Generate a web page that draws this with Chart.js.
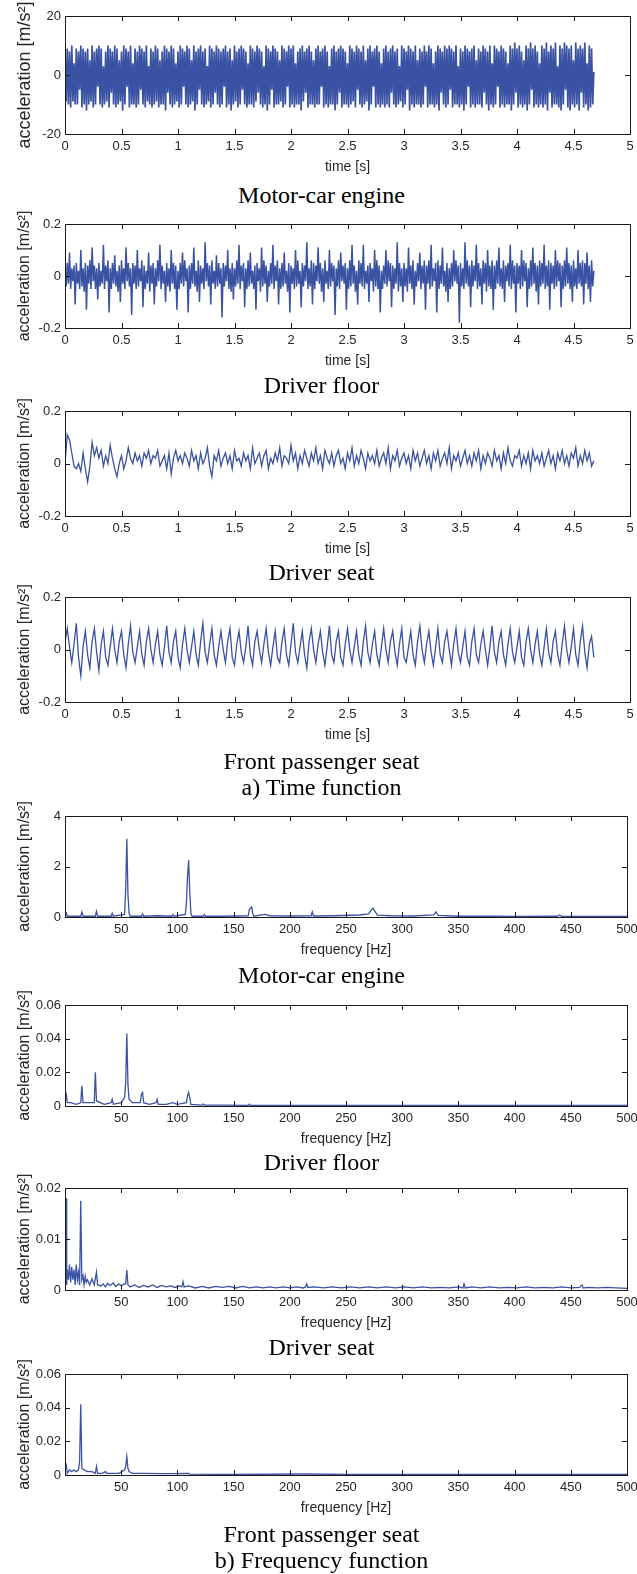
<!DOCTYPE html>
<html>
<head>
<meta charset="utf-8">
<script src="https://cdn.jsdelivr.net/npm/chart.js@4/dist/chart.umd.min.js"></script>
<style>
  body { margin: 0; background: #fff; }
  #page { position: relative; width: 637px; height: 1574px; overflow: hidden; }
  canvas { position: absolute; left: 0; }
  .cap { position: absolute; left: 3px; width: 637px; text-align: center; font-family: "Liberation Serif", "Times New Roman", serif; font-size: 24px; line-height: 26px; color: #000; }
</style>
</head>
<body>
<div id="page">
  <canvas id="c1" width="637" height="180" style="top:0px"></canvas>
  <div class="cap" style="top:182px">Motor-car engine</div>
  <canvas id="c2" width="637" height="166" style="top:208px"></canvas>
  <div class="cap" style="top:372px">Driver floor</div>
  <canvas id="c3" width="637" height="167" style="top:395px"></canvas>
  <div class="cap" style="top:559px">Driver seat</div>
  <canvas id="c4" width="637" height="167" style="top:581px"></canvas>
  <div class="cap" style="top:748px">Front passenger seat</div>
  <div class="cap" style="top:774px">a) Time function</div>
  <canvas id="c5" width="637" height="163" style="top:800px"></canvas>
  <div class="cap" style="top:962px">Motor-car engine</div>
  <canvas id="c6" width="637" height="163" style="top:989px"></canvas>
  <div class="cap" style="top:1149px">Driver floor</div>
  <canvas id="c7" width="637" height="164" style="top:1172px"></canvas>
  <div class="cap" style="top:1334px">Driver seat</div>
  <canvas id="c8" width="637" height="163" style="top:1358px"></canvas>
  <div class="cap" style="top:1521px">Front passenger seat</div>
  <div class="cap" style="top:1547px">b) Frequency function</div>
</div>
<script>
// sampling steps of the time records [s]
const DT_DENSE = 0.01;   // engine, floor
const DT = 0.02;         // seats

// a) time functions, acceleration [m/s2]
const engineTime = [
  6, -9, 9, -10, 8, -11, 10, -9, 4, -10, 9, -10, 8, -5, 10, -11, 9, -10, 8, -12,
  9, -10, 5, -9, 10, -11, 8, -10, 9, -4, 10, -10, 9, -11, 3, -10, 8, -9, 10, -11,
  9, -6, 8, -10, 10, -11, 9, -10, 5, -9, 8, -12, 10, -10, 9, -4, 8, -11, 10, -10,
  4, -10, 9, -11, 8, -10, 10, -5, 9, -10, 8, -11, 10, -9, 3, -10, 9, -11, 8, -10,
  10, -9, 9, -11, 5, -10, 8, -10, 10, -12, 9, -6, 8, -10, 10, -11, 9, -10, 4, -9,
  8, -11, 10, -10, 9, -4, 8, -10, 10, -11, 9, -10, 5, -9, 10, -12, 8, -10, 9, -5,
  10, -10, 8, -11, 9, -10, 3, -9, 10, -11, 9, -10, 8, -6, 10, -10, 9, -11, 8, -10,
  9, -4, 10, -11, 8, -10, 9, -12, 5, -10, 10, -9, 8, -11, 9, -10, 10, -5, 9, -10,
  8, -11, 4, -10, 10, -10, 9, -11, 8, -9, 10, -6, 9, -10, 8, -11, 3, -10, 10, -12,
  9, -10, 8, -5, 10, -11, 9, -10, 8, -10, 5, -9, 10, -11, 9, -10, 8, -4, 10, -11,
  9, -10, 10, -11, 4, -10, 8, -10, 9, -12, 10, -9, 8, -6, 9, -11, 10, -10, 8, -10,
  5, -11, 9, -10, 10, -10, 8, -4, 9, -11, 10, -10, 8, -11, 3, -10, 9, -10, 10, -12,
  8, -10, 9, -6, 10, -11, 9, -10, 8, -10, 4, -11, 10, -10, 9, -9, 8, -11, 10, -5,
  9, -10, 8, -11, 10, -10, 5, -9, 9, -12, 10, -10, 8, -4, 9, -11, 10, -10, 8, -11,
  4, -10, 9, -11, 10, -10, 8, -11, 9, -6, 10, -10, 8, -11, 9, -10, 3, -9, 10, -11,
  9, -10, 8, -5, 10, -12, 9, -10, 8, -11, 10, -10, 5, -10, 9, -11, 8, -10, 10, -4,
  8, -11, 10, -10, 9, -10, 4, -11, 8, -10, 10, -12, 9, -6, 8, -10, 10, -11, 9, -10,
  10, -5, 9, -11, 8, -10, 10, -10, 3, -11, 9, -10, 8, -12, 10, -10, 9, -4, 8, -11,
  9, -10, 10, -11, 5, -10, 9, -10, 8, -11, 10, -6, 9, -10, 8, -12, 10, -10, 4, -11,
  10, -10, 9, -4, 8, -11, 10, -10, 9, -11, 8, -10, 4, -10, 10, -12, 9, -10, 11, -6,
  9, -11, 10, -10, 8, -11, 5, -10, 10, -12, 9, -10, 11, -5, 9, -11, 10, -10, 8, -11,
  4, -10, 10, -11, 9, -10, 11, -12, 8, -6, 10, -11, 9, -10, 11, -10, 3, -11, 10, -12,
  9, -10, 11, -5, 10, -11, 9, -12, 10, -10, 5, -11, 11, -10, 9, -12, 10, -6, 9, -11,
  11, -10, 4, -12, 10, -11, 9, -10, 1
];
const floorTime = [
  0.02, -0.04, 0.05, -0.03, 0.09, -0.05, 0.03, -0.02, 0.04, -0.11, 0.05, -0.03, 0.02, -0.05, 0.1, -0.04, 0.03, -0.06, 0.05, -0.13,
  0.04, -0.03, 0.06, -0.05, 0.11, -0.02, 0.04, -0.05, 0.03, -0.09, 0.05, -0.04, 0.02, -0.03, 0.12, -0.05, 0.04, -0.02, 0.06, -0.14,
  0.03, -0.05, 0.05, -0.03, 0.08, -0.04, 0.02, -0.06, 0.04, -0.1, 0.06, -0.03, 0.03, -0.05, 0.11, -0.02, 0.05, -0.04, 0.03, -0.15,
  0.05, -0.03, 0.04, -0.05, 0.1, -0.04, 0.03, -0.02, 0.06, -0.12, 0.04, -0.05, 0.02, -0.03, 0.09, -0.06, 0.04, -0.03, 0.05, -0.11,
  0.03, -0.04, 0.06, -0.02, 0.12, -0.05, 0.04, -0.03, 0.02, -0.1, 0.05, -0.04, 0.03, -0.06, 0.1, -0.03, 0.05, -0.05, 0.04, -0.13,
  0.02, -0.05, 0.05, -0.03, 0.09, -0.04, 0.06, -0.02, 0.03, -0.14, 0.04, -0.05, 0.05, -0.03, 0.11, -0.04, 0.02, -0.06, 0.06, -0.1,
  0.04, -0.03, 0.03, -0.05, 0.13, -0.02, 0.05, -0.04, 0.04, -0.11, 0.06, -0.03, 0.02, -0.05, 0.08, -0.04, 0.05, -0.03, 0.03, -0.16,
  0.05, -0.04, 0.04, -0.02, 0.1, -0.05, 0.03, -0.06, 0.05, -0.09, 0.03, -0.04, 0.06, -0.03, 0.12, -0.05, 0.04, -0.02, 0.05, -0.12,
  0.03, -0.05, 0.06, -0.04, 0.09, -0.03, 0.02, -0.05, 0.04, -0.13, 0.05, -0.02, 0.03, -0.06, 0.11, -0.04, 0.06, -0.03, 0.04, -0.1,
  0.02, -0.04, 0.05, -0.03, 0.12, -0.05, 0.04, -0.02, 0.06, -0.11, 0.03, -0.05, 0.05, -0.04, 0.09, -0.03, 0.02, -0.06, 0.05, -0.14,
  0.04, -0.03, 0.03, -0.05, 0.1, -0.04, 0.06, -0.03, 0.02, -0.12, 0.05, -0.04, 0.04, -0.02, 0.13, -0.05, 0.03, -0.04, 0.06, -0.11,
  0.05, -0.05, 0.04, -0.02, 0.11, -0.03, 0.05, -0.06, 0.03, -0.1, 0.06, -0.03, 0.02, -0.05, 0.1, -0.04, 0.05, -0.02, 0.04, -0.15,
  0.03, -0.04, 0.06, -0.05, 0.09, -0.02, 0.04, -0.03, 0.05, -0.13, 0.03, -0.05, 0.06, -0.04, 0.12, -0.03, 0.04, -0.06, 0.02, -0.11,
  0.06, -0.03, 0.05, -0.04, 0.12, -0.05, 0.02, -0.03, 0.04, -0.1, 0.05, -0.02, 0.03, -0.06, 0.1, -0.04, 0.06, -0.05, 0.04, -0.14,
  0.02, -0.05, 0.04, -0.03, 0.1, -0.04, 0.06, -0.02, 0.05, -0.12, 0.04, -0.05, 0.03, -0.03, 0.13, -0.06, 0.05, -0.04, 0.03, -0.1,
  0.05, -0.04, 0.03, -0.06, 0.11, -0.03, 0.04, -0.05, 0.06, -0.11, 0.02, -0.04, 0.05, -0.02, 0.09, -0.05, 0.04, -0.03, 0.06, -0.13,
  0.04, -0.03, 0.06, -0.05, 0.12, -0.04, 0.03, -0.02, 0.05, -0.14, 0.06, -0.05, 0.04, -0.03, 0.11, -0.04, 0.02, -0.06, 0.05, -0.1,
  0.03, -0.05, 0.05, -0.04, 0.1, -0.02, 0.06, -0.03, 0.04, -0.18, 0.05, -0.04, 0.03, -0.05, 0.13, -0.03, 0.06, -0.04, 0.04, -0.12,
  0.06, -0.04, 0.04, -0.02, 0.12, -0.05, 0.05, -0.04, 0.03, -0.11, 0.06, -0.03, 0.05, -0.06, 0.1, -0.04, 0.04, -0.05, 0.06, -0.13,
  0.04, -0.05, 0.06, -0.03, 0.11, -0.04, 0.03, -0.05, 0.06, -0.1, 0.04, -0.02, 0.05, -0.04, 0.12, -0.05, 0.06, -0.03, 0.04, -0.14,
  0.05, -0.03, 0.04, -0.05, 0.1, -0.04, 0.06, -0.02, 0.05, -0.12, 0.03, -0.05, 0.06, -0.04, 0.11, -0.03, 0.05, -0.06, 0.04, -0.11,
  0.06, -0.04, 0.05, -0.03, 0.12, -0.05, 0.04, -0.04, 0.06, -0.13, 0.05, -0.03, 0.04, -0.05, 0.1, -0.04, 0.06, -0.02, 0.05, -0.12,
  0.04, -0.05, 0.06, -0.04, 0.11, -0.03, 0.05, -0.05, 0.04, -0.1, 0.06, -0.04, 0.03, -0.05, 0.1, -0.03, 0.05, -0.04, 0.06, -0.11,
  0.05, -0.03, 0.09, -0.05, 0.04, -0.1, 0.06, -0.04, 0.02
];
const seatTime = [
  0.0, 0.11, 0.09, 0.04, -0.01, -0.02, 0.0, -0.03, 0.04, -0.02, -0.07, -0.01, 0.08, 0.03, 0.06, 0.02, 0.05, -0.01, 0.03, 0.0,
  0.07, 0.02, -0.02, -0.05, 0.0, 0.03, -0.02, 0.01, 0.06, 0.02, 0.0, 0.04, 0.01, 0.03, -0.01, 0.04, 0.02, 0.05, 0.0, 0.03,
  0.02, 0.05, -0.01, 0.01, 0.03, -0.02, 0.04, -0.04, 0.02, 0.05, 0.01, 0.03, 0.0, 0.04, 0.02, -0.01, 0.05, 0.01, 0.03, -0.02,
  0.04, 0.0, 0.02, 0.06, -0.01, -0.05, 0.03, 0.01, 0.05, -0.01, 0.02, 0.04, 0.0, 0.03, -0.02, 0.05, 0.01, 0.02, -0.01, 0.04,
  0.01, 0.03, -0.02, 0.06, 0.0, 0.02, 0.04, -0.01, 0.03, 0.05, -0.02, 0.02, 0.0, 0.04, 0.01, 0.06, -0.01, 0.03, 0.02, 0.0,
  0.07, 0.01, 0.04, -0.02, 0.03, 0.0, 0.05, 0.02, -0.01, 0.04, 0.01, 0.06, 0.0, 0.03, -0.02, 0.05, 0.02, 0.0, 0.04, -0.01,
  0.03, 0.05, 0.0, 0.02, -0.02, 0.04, 0.01, 0.06, -0.01, 0.03, 0.0, 0.05, 0.02, -0.02, 0.04, 0.01, 0.03, 0.0, 0.05, -0.01,
  0.02, 0.04, 0.0, 0.06, -0.02, 0.03, 0.01, 0.05, -0.01, 0.02, 0.04, 0.0, 0.03, -0.02, 0.05, 0.01, 0.04, -0.01, 0.02, 0.05,
  0.0, 0.03, -0.02, 0.04, 0.01, 0.05, -0.01, 0.02, 0.04, 0.0, 0.06, -0.02, 0.03, 0.01, 0.04, -0.01, 0.02, 0.05, 0.0, 0.03,
  -0.01, 0.04, 0.01, 0.05, -0.02, 0.03, 0.0, 0.04, 0.02, -0.01, 0.05, 0.01, 0.03, -0.02, 0.04, 0.0, 0.06, 0.01, -0.01, 0.03,
  0.02, 0.05, -0.01, 0.03, 0.0, 0.04, -0.02, 0.05, 0.01, 0.03, 0.0, 0.04, -0.01, 0.02, 0.05, 0.0, 0.03, -0.02, 0.04, 0.01,
  0.05, 0.0, 0.03, -0.01, 0.04, 0.02, 0.06, -0.01, 0.03, 0.0, 0.05, 0.01, 0.04, -0.01, 0.01
];
const passengerTime = [
  0.03, 0.08, 0.01, -0.05, 0.02, 0.1, -0.03, -0.1, 0.01, 0.07, -0.02, -0.07, 0.03, 0.08, -0.01, -0.08, 0.02, 0.07, -0.03, -0.06,
  0.01, 0.08, 0.0, -0.05, 0.03, 0.07, -0.02, -0.07, 0.02, 0.09, -0.01, -0.05, 0.01, 0.07, -0.02, -0.06, 0.03, 0.08, 0.0, -0.05,
  0.02, 0.07, -0.02, -0.06, 0.01, 0.09, -0.01, -0.05, 0.03, 0.07, -0.03, -0.07, 0.02, 0.08, 0.0, -0.05, 0.01, 0.07, -0.02, -0.06,
  0.03, 0.1, -0.01, -0.05, 0.02, 0.08, -0.02, -0.06, 0.01, 0.07, 0.0, -0.05, 0.03, 0.08, -0.03, -0.06, 0.02, 0.07, -0.01, -0.05,
  0.01, 0.09, -0.02, -0.06, 0.03, 0.07, 0.0, -0.05, 0.02, 0.08, -0.01, -0.06, 0.01, 0.07, -0.03, -0.05, 0.03, 0.08, -0.02, -0.06,
  0.02, 0.1, -0.01, -0.05, 0.01, 0.07, -0.02, -0.07, 0.03, 0.08, 0.0, -0.05, 0.02, 0.07, -0.01, -0.06, 0.01, 0.09, -0.02, -0.05,
  0.03, 0.07, -0.03, -0.06, 0.02, 0.08, 0.0, -0.05, 0.01, 0.07, -0.02, -0.06, 0.03, 0.09, -0.01, -0.05, 0.02, 0.07, -0.02, -0.06,
  0.01, 0.08, 0.0, -0.05, 0.03, 0.07, -0.01, -0.06, 0.02, 0.08, -0.03, -0.05, 0.01, 0.07, -0.02, -0.06, 0.03, 0.09, 0.0, -0.05,
  0.02, 0.07, -0.01, -0.06, 0.01, 0.08, -0.02, -0.05, 0.03, 0.07, 0.0, -0.06, 0.02, 0.08, -0.01, -0.05, 0.01, 0.07, -0.03, -0.06,
  0.03, 0.08, -0.02, -0.05, 0.02, 0.07, 0.0, -0.06, 0.01, 0.09, -0.01, -0.05, 0.03, 0.07, -0.02, -0.06, 0.02, 0.08, -0.01, -0.05,
  0.01, 0.07, -0.03, -0.06, 0.03, 0.08, 0.0, -0.05, 0.02, 0.07, -0.02, -0.06, 0.01, 0.08, -0.01, -0.05, 0.03, 0.07, -0.02, -0.06,
  0.02, 0.09, 0.0, -0.05, 0.01, 0.08, -0.02, -0.06, 0.03, 0.09, -0.01, -0.07, 0.02, 0.05, -0.03
];

// b) frequency functions: frequency [Hz] and amplitude [m/s2]
const engineFreq = [1, 2, 4, 14, 15, 16, 27, 28, 29, 41, 42, 43, 53, 54, 55, 56, 57, 58, 68, 69, 70, 82, 95, 96, 97,
  107, 108, 109, 110, 111, 112, 113, 123, 124, 125, 140, 163, 164, 165, 166, 167, 168, 175, 178, 182, 200, 219, 220, 221,
  240, 255, 262, 270, 272, 274, 276, 278, 290, 310, 328, 330, 332, 350, 380, 400, 438, 440, 442, 470, 500];
const engineAmp = [0.2, 0.03, 0.03, 0.03, 0.2, 0.03, 0.03, 0.22, 0.03, 0.03, 0.15, 0.03, 0.1, 1.1, 3.1, 0.9, 0.15, 0.03,
  0.03, 0.12, 0.03, 0.05, 0.03, 0.1, 0.03, 0.1, 0.55, 1.6, 2.25, 1.0, 0.15, 0.03, 0.03, 0.1, 0.03, 0.03, 0.05, 0.3, 0.35,
  0.4, 0.15, 0.03, 0.08, 0.1, 0.05, 0.04, 0.05, 0.2, 0.04, 0.05, 0.07, 0.08, 0.12, 0.25, 0.35, 0.2, 0.07, 0.05, 0.04,
  0.08, 0.2, 0.06, 0.03, 0.03, 0.02, 0.03, 0.08, 0.02, 0.02, 0.02];
const floorFreq = [1, 2, 5, 10, 14, 15, 16, 22, 26, 27, 28, 35, 41, 42, 43, 50, 53, 54, 55, 56, 57, 60, 67, 68, 69, 70,
  75, 81, 82, 83, 90, 96, 100, 108, 109, 110, 111, 112, 122, 123, 124, 140, 163, 164, 165, 200, 300, 400, 500];
const floorAmp = [0.008, 0.002, 0.002, 0.001, 0.002, 0.012, 0.002, 0.002, 0.002, 0.02, 0.003, 0.001, 0.002, 0.004, 0.001,
  0.002, 0.005, 0.014, 0.043, 0.013, 0.004, 0.002, 0.002, 0.007, 0.008, 0.002, 0.001, 0.002, 0.004, 0.001, 0.001, 0.002,
  0.001, 0.002, 0.006, 0.008, 0.005, 0.001, 0.0005, 0.0012, 0.0005, 0.0005, 0.0004, 0.0011, 0.0004, 0.0004, 0.0003,
  0.0003, 0.0003];
const seatFreq = [
  1, 1.5, 2, 3, 4, 5, 6, 7, 8, 9, 10, 11, 12, 13, 14, 15, 16, 17, 18, 19, 20,
  22, 24, 26, 28, 29,
  32, 34, 36, 38, 40, 43, 45, 48, 50, 52, 54,
  55, 56,
  58, 62, 66, 70, 74, 78, 82, 86, 90, 94, 98, 102, 104,
  105, 106,
  110, 116, 122, 128, 134, 140, 146, 152, 158, 164, 170, 176, 182, 188, 194, 200, 206, 212, 214,
  215, 216,
  222, 230, 238, 246, 254, 262, 270, 278, 286, 294, 302, 310, 318, 326, 334, 342, 350, 354,
  355, 356,
  362, 370, 378, 386, 394, 402, 410, 418, 426, 434, 442, 450, 458,
  460, 461,
  466, 474, 482, 490, 500
];
const seatAmp = [
  0.018, 0.001, 0.004, 0.002, 0.005, 0.0015, 0.0045, 0.002, 0.004, 0.001, 0.005, 0.002, 0.0035, 0.001, 0.0175, 0.002, 0.0028, 0.001, 0.0027, 0.0015, 0.002,
  0.001, 0.0022, 0.001, 0.0035, 0.001,
  0.0008, 0.0012, 0.0006, 0.0013, 0.0009, 0.0014, 0.0007, 0.0012, 0.0008, 0.0011, 0.0012,
  0.0039, 0.001,
  0.0006, 0.001, 0.0005, 0.0009, 0.0006, 0.001, 0.0005, 0.0009, 0.0006, 0.0008, 0.0005, 0.0008, 0.0006,
  0.0016, 0.0006,
  0.0008, 0.0004, 0.0007, 0.0004, 0.0007, 0.0005, 0.0007, 0.0004, 0.0007, 0.0004, 0.0006, 0.0004, 0.0006, 0.0004, 0.0006, 0.0004, 0.0006, 0.0004, 0.0006,
  0.0012, 0.0005,
  0.0006, 0.0004, 0.0006, 0.0004, 0.0006, 0.0004, 0.0006, 0.0004, 0.0006, 0.0004, 0.0006, 0.0004, 0.0006, 0.0004, 0.0005, 0.0004, 0.0006, 0.0004,
  0.0012, 0.0004,
  0.0006, 0.0004, 0.0006, 0.0004, 0.0005, 0.0004, 0.0006, 0.0004, 0.0005, 0.0004, 0.0006, 0.0004, 0.0005,
  0.001, 0.0004,
  0.0005, 0.0004, 0.0005, 0.0004, 0.0003
];
const passengerFreq = [1, 2, 4, 6, 8, 10, 12, 13, 14, 15, 17, 20, 24, 27, 28, 29, 33, 36, 37, 42, 48, 53, 54, 55, 56, 57,
  60, 66, 70, 85, 95, 110, 111, 150, 212, 250, 300, 400, 500];
const passengerAmp = [0.007, 0.001, 0.003, 0.002, 0.003, 0.002, 0.003, 0.008, 0.042, 0.004, 0.003, 0.002, 0.002, 0.001,
  0.005, 0.001, 0.001, 0.002, 0.001, 0.001, 0.001, 0.003, 0.005, 0.011, 0.004, 0.002, 0.001, 0.001, 0.001, 0.0008,
  0.0008, 0.001, 0.0005, 0.0003, 0.0006, 0.0003, 0.0003, 0.0003, 0.0003];

const BLUE = "#3a52a3";
const INK = "#262626";
const SANS = "'Liberation Sans', Arial, sans-serif";

// tidy tick text like matlab: 1 not 1.0
const num = v => String(+v.toFixed(4));

// box round the plot with inward tick marks on all four sides
const matlabBox = {
  id: "matlabBox",
  afterDatasetsDraw(chart) {
    const { ctx, chartArea: a, scales } = chart;
    ctx.save();
    ctx.strokeStyle = "#1a1a1a";
    ctx.lineWidth = 1;
    ctx.beginPath();
    scales.x.ticks.forEach(t => {
      const px = Math.round(scales.x.getPixelForValue(t.value)) + 0.5;
      ctx.moveTo(px, a.bottom); ctx.lineTo(px, a.bottom - 5);
      ctx.moveTo(px, a.top); ctx.lineTo(px, a.top + 5);
    });
    scales.y.ticks.forEach(t => {
      const py = Math.round(scales.y.getPixelForValue(t.value)) + 0.5;
      ctx.moveTo(a.left, py); ctx.lineTo(a.left + 5, py);
      ctx.moveTo(a.right, py); ctx.lineTo(a.right - 5, py);
    });
    ctx.stroke();
    ctx.strokeRect(Math.round(a.left) + 0.5, Math.round(a.top) + 0.5, Math.round(a.width), Math.round(a.height));
    ctx.restore();
  }
};

function plot(id, xs, ys, o) {
  const pts = xs.map((x, i) => ({ x: x, y: ys[i] }));
  new Chart(document.getElementById(id), {
    type: "line",
    data: {
      datasets: [{ data: pts, borderColor: BLUE, borderWidth: o.lw || 1, pointRadius: 0, tension: 0 }]
    },
    options: {
      responsive: false,
      animation: false,
      events: [],
      layout: { autoPadding: false, padding: { top: 16, right: 637 - o.right, left: 0, bottom: 0 } },
      plugins: { legend: { display: false }, tooltip: { enabled: false } },
      scales: {
        x: {
          type: "linear", min: o.xmin, max: o.xmax,
          grid: { display: false, drawTicks: false }, border: { display: false },
          afterFit: s => { s.height = 46; s.paddingLeft = 0; s.paddingRight = 0; },
          ticks: {
            stepSize: o.xstep, autoSkip: false, maxRotation: 0, padding: 5, color: INK,
            font: { family: SANS, size: 13 }, callback: o.xcb || num
          },
          title: { display: true, text: o.xtitle, color: INK, font: { family: SANS, size: 14 }, padding: { top: 0, bottom: 4 } }
        },
        y: {
          min: o.ymin, max: o.ymax,
          grid: { display: false, drawTicks: false }, border: { display: false },
          afterFit: s => { s.width = 65; s.paddingTop = 0; s.paddingBottom = 0; },
          ticks: { stepSize: o.ystep, padding: 4, color: INK, font: { family: SANS, size: 13 }, callback: num },
          title: {
            display: true, text: "acceleration [m/s²]", color: INK,
            font: { family: SANS, size: o.tsize || 16 }, padding: { top: o.tpad || 15, bottom: 0 }
          }
        }
      }
    },
    plugins: [matlabBox]
  });
}

const times = (arr, step) => arr.map((_, i) => +(i * step).toFixed(2));
const timeOpts = { xmin: 0, xmax: 5, xstep: 0.5, xtitle: "time [s]", right: 630 };
const freqOpts = { xmin: 0, xmax: 500, xstep: 50, xtitle: "frequency [Hz]", right: 627, xcb: v => (v === 0 ? "" : String(v)), lw: 1.3 };

plot("c1", times(engineTime, DT_DENSE), engineTime, Object.assign({}, timeOpts, { ymin: -20, ymax: 20, ystep: 20, tsize: 18, tpad: 14, lw: 1.7 }));
plot("c2", times(floorTime, DT_DENSE), floorTime, Object.assign({}, timeOpts, { ymin: -0.2, ymax: 0.2, ystep: 0.2, lw: 1.5 }));
plot("c3", times(seatTime, DT), seatTime, Object.assign({}, timeOpts, { ymin: -0.2, ymax: 0.2, ystep: 0.2, lw: 1.3 }));
plot("c4", times(passengerTime, DT), passengerTime, Object.assign({}, timeOpts, { ymin: -0.2, ymax: 0.2, ystep: 0.2, lw: 1.3 }));
plot("c5", engineFreq, engineAmp, Object.assign({}, freqOpts, { ymin: 0, ymax: 4, ystep: 2 }));
plot("c6", floorFreq, floorAmp, Object.assign({}, freqOpts, { ymin: 0, ymax: 0.06, ystep: 0.02 }));
plot("c7", seatFreq, seatAmp, Object.assign({}, freqOpts, { ymin: 0, ymax: 0.02, ystep: 0.01 }));
plot("c8", passengerFreq, passengerAmp, Object.assign({}, freqOpts, { ymin: 0, ymax: 0.06, ystep: 0.02 }));
</script>
</body>
</html>
